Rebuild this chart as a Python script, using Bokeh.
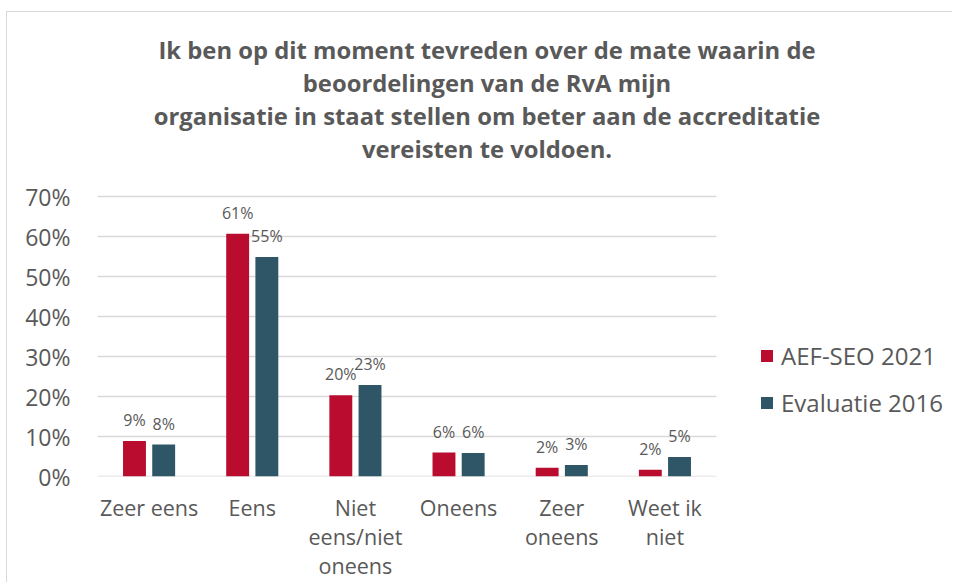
from bokeh.plotting import figure
from bokeh.models import Legend, LegendItem, FixedTicker, ColumnDataSource, Range1d
from bokeh.core.properties import value
from bokeh.embed import file_html
from bokeh.resources import INLINE

# ---- data ----
categories = ["Zeer eens", "Eens", "Niet\neens/niet\noneens", "Oneens", "Zeer\noneens", "Weet ik\nniet"]
series_names = ["AEF-SEO 2021", "Evaluatie 2016"]
aef_2021 = [0.089, 0.607, 0.203, 0.060, 0.022, 0.017]
eval_2016 = [0.080, 0.549, 0.229, 0.059, 0.029, 0.049]
y_ticks = [0.0, 0.1, 0.2, 0.3, 0.4, 0.5, 0.6, 0.7]
y_tick_labels = ["0%", "10%", "20%", "30%", "40%", "50%", "60%", "70%"]
title_lines = [
    "Ik ben op dit moment tevreden over de mate waarin de",
    "beoordelingen van de RvA mijn",
    "organisatie in staat stellen om beter aan de accreditatie",
    "vereisten te voldoen.",
]

RED = "#BA0C2F"
BLUE = "#2E5666"
TXT = "#595959"
FONT = "Open Sans"

# ---- layout constants (page pixels) ----
FIG_X, FIG_Y = 7, 12              # canvas origin (after chart border)
PLOT_L, PLOT_R = 97, 716          # bar area left/right
FRAME_R = 952                     # frame extends under the legend
FRAME_B = 476                     # 0% line
PX_PER_UNIT = 400                 # px per 100%
n = len(categories)
cat_px = (PLOT_R - PLOT_L) / n
x_start = -0.5
x_end = x_start + (FRAME_R - PLOT_L) / cat_px
y_end = (FRAME_B - FIG_Y) / PX_PER_UNIT

def px_to_x(px):
    return x_start + (px - PLOT_L) / cat_px

def px_to_y(py):
    return (FRAME_B - py) / PX_PER_UNIT

xs = list(range(n))
off = 0.1415
bw = 0.222

src_a = ColumnDataSource(dict(
    x=[i - off for i in xs], top=aef_2021,
    lab=[f"{round(v * 100)}%" for v in aef_2021]))
src_b = ColumnDataSource(dict(
    x=[i + off for i in xs], top=eval_2016,
    lab=[f"{round(v * 100)}%" for v in eval_2016]))

p = figure(frame_width=FRAME_R - PLOT_L, frame_height=FRAME_B - FIG_Y,
           output_backend="svg", toolbar_location=None,
           x_range=Range1d(x_start, x_end), y_range=Range1d(0, y_end),
           min_border_left=PLOT_L - FIG_X, min_border_right=0, min_border_top=0, min_border_bottom=0)
p.outline_line_color = None
p.background_fill_color = "white"
p.border_fill_color = "white"

# gridlines only across the bar area
p.xgrid.grid_line_color = None
p.ygrid.grid_line_color = None
p.segment(x0=[x_start] * len(y_ticks), x1=[n - 0.5] * len(y_ticks), y0=y_ticks, y1=y_ticks,
          line_color="#D9D9D9", line_width=1.5)

ra = p.vbar(x="x", top="top", width=bw, source=src_a, fill_color=RED, line_color=None)
rb = p.vbar(x="x", top="top", width=bw, source=src_b, fill_color=BLUE, line_color=None)

for s in (src_a, src_b):
    p.text(x="x", y="top", text="lab", source=s, text_align="center", text_baseline="middle",
           y_offset=-21, text_font=value(FONT), text_font_size="16px", text_color=TXT)

# title lines
baselines_px = [49.5, 82.5, 115.5, 148.5]
p.text(x=[px_to_x(486.5)] * len(title_lines), y=[px_to_y(b) for b in baselines_px], text=title_lines,
       text_align="center", text_baseline="alphabetic", text_font=value(FONT),
       text_font_size="23.8px", text_font_style="bold", text_color=TXT)

# axes
p.xaxis.ticker = FixedTicker(ticks=xs)
p.xaxis.major_label_overrides = {i: c for i, c in zip(xs, categories)}
p.xaxis.axis_line_color = None
p.xaxis.major_tick_line_color = None
p.xaxis.minor_tick_line_color = None
p.xaxis.major_label_standoff = 10
p.xaxis.major_label_text_font = FONT
p.xaxis.major_label_text_font_size = "21.5px"
p.xaxis.major_label_text_color = TXT
p.xaxis.major_label_text_line_height = 1.0

p.yaxis.ticker = FixedTicker(ticks=y_ticks)
p.yaxis.major_label_overrides = {t: l for t, l in zip(y_ticks, y_tick_labels)}
p.yaxis.axis_line_color = None
p.yaxis.major_tick_line_color = None
p.yaxis.minor_tick_line_color = None
p.yaxis.major_label_standoff = 21
p.yaxis.major_label_text_font = FONT
p.yaxis.major_label_text_font_size = "23px"
p.yaxis.major_label_text_color = TXT

legend = Legend(items=[LegendItem(label=series_names[0], renderers=[ra]),
                       LegendItem(label=series_names[1], renderers=[rb])],
                location=(759 - PLOT_L, 57), orientation="vertical")
legend.glyph_width = 15
legend.glyph_height = 15
legend.label_standoff = 7
legend.spacing = 14
legend.padding = 0
legend.margin = 0
legend.border_line_color = None
legend.background_fill_color = None
legend.background_fill_alpha = 0
legend.label_text_font = FONT
legend.label_text_font_size = "24px"
legend.label_text_color = TXT
p.add_layout(legend, "center")

p.styles = {"margin-left": "6px", "margin-top": "11px",
            "border-left": "1px solid #D9D9D9", "border-top": "1px solid #D9D9D9"}

open("out.html", "w").write(file_html(p, INLINE))
